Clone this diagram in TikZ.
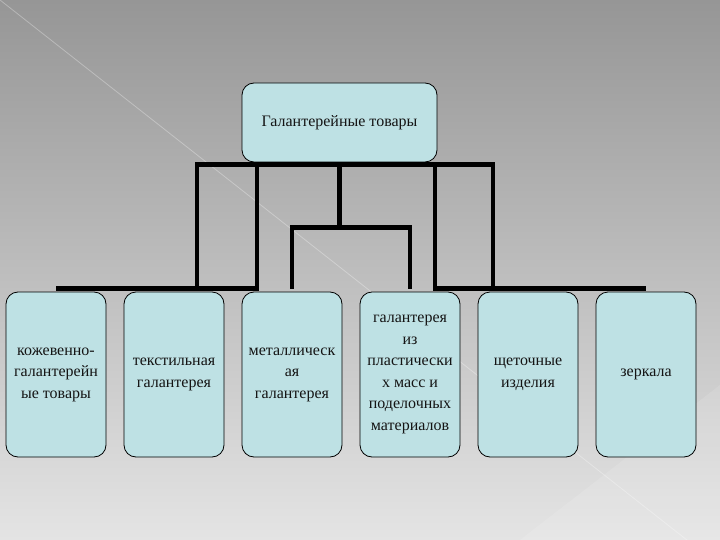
\documentclass[tikz,border=0pt]{standalone}
\usepackage{fontspec}
\setmainfont{Liberation Serif}
\definecolor{bgtop}{RGB}{150,150,150}
\definecolor{bgbot}{RGB}{228,228,228}
\definecolor{boxfill}{RGB}{190,225,228}
\definecolor{textcol}{RGB}{20,20,20}
\pgfdeclarelayer{back}
\pgfdeclarelayer{lines}
\pgfsetlayers{back,lines,main}
\begin{document}
\begin{tikzpicture}[x=1pt,y=-1pt,
  box/.style={draw=black, line width=0.8pt, fill=boxfill, rounded corners=12pt,
    align=center, font=\fontsize{16}{21.5}\selectfont, text=textcol, inner sep=0pt},
  child/.style={box, minimum width=100pt, minimum height=165pt},
  conn/.style={line width=4.5pt, black}]
\useasboundingbox (0,0) rectangle (720,540);
\begin{pgfonlayer}{back}
  \shade[top color=bgtop, bottom color=bgbot] (0,0) rectangle (720,540);
  \draw[white, opacity=0.3, line width=0.8pt] (0,0) -- (720,566);
  \fill[white, opacity=0.12] (520,540) -- (720,385) -- (720,540) -- cycle;
\end{pgfonlayer}

\node[box, minimum width=195pt, minimum height=79pt] (top) at (339.5,122.5) {Галантерейные товары};

\node[child] (c1) at (56,374.5) {кожевенно-\\галантерейн\\ые товары};
\node[child] (c2) at (174,374.5) {текстильная\\галантерея};
\node[child] (c3) at (292,374.5) {металлическ\\ая\\галантерея};
\node[child] (c4) at (410,374.5) {галантерея\\из\\пластически\\х масс и\\поделочных\\материалов};
\node[child] (c5) at (528,374.5) {щеточные\\изделия};
\node[child] (c6) at (646,374.5) {зеркала};

\begin{pgfonlayer}{lines}
  \draw[conn] ([yshift=-2pt]top.south) -- ++(-142.5,0) |- ([yshift=3pt]c1.north);
  \draw[conn] ([yshift=-2pt]top.south) -- ++(-82.5,0) |- ([yshift=3pt]c2.north);
  \draw[conn] ([yshift=-2pt]top.south) -- ++(0,63) -| ([yshift=3pt]c3.north);
  \draw[conn] ([yshift=-2pt]top.south) -- ++(0,63) -| ([yshift=3pt]c4.north);
  \draw[conn] ([yshift=-2pt]top.south) -- ++(95.5,0) |- ([yshift=3pt]c5.north);
  \draw[conn] ([yshift=-2pt]top.south) -- ++(153.5,0) |- ([yshift=3pt]c6.north);
\end{pgfonlayer}
\end{tikzpicture}
\end{document}
